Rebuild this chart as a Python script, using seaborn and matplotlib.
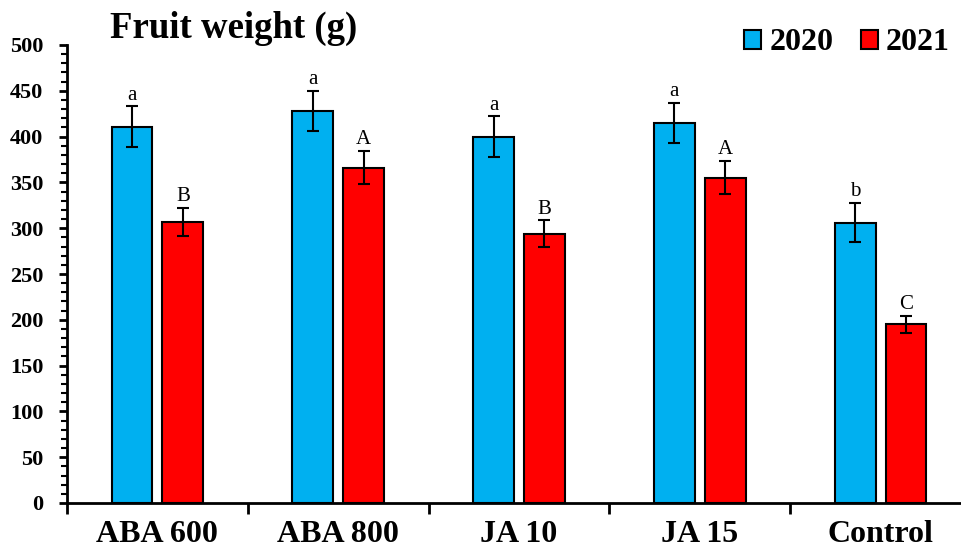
import pandas as pd
import matplotlib
matplotlib.use('Agg')
import matplotlib.pyplot as plt
import seaborn as sns
from matplotlib.ticker import MultipleLocator, FixedLocator

# values
treatments = ['ABA 600', 'ABA 800', 'JA 10', 'JA 15', 'Control']
years = ['2020', '2021']
weight_2020 = [411, 428, 400, 415, 306]
weight_2021 = [307, 366, 294, 355, 195]
err_2020 = [22, 22, 22, 21.5, 21.5]
err_2021 = [15, 18, 14.5, 18, 9.5]
letters_2020 = ['a', 'a', 'a', 'a', 'b']
letters_2021 = ['B', 'A', 'B', 'A', 'C']
colors = ['#00B0F0', '#FF0000']

df = pd.DataFrame({
    'treatment': treatments * 2,
    'year': [years[0]] * 5 + [years[1]] * 5,
    'weight': weight_2020 + weight_2021,
    'err': err_2020 + err_2021,
    'letter': letters_2020 + letters_2021,
})

sns.set_style('white')
plt.rcParams['font.family'] = ['Liberation Serif', 'DejaVu Serif']
plt.rcParams['text.color'] = 'black'
plt.rcParams['xtick.color'] = 'black'
plt.rcParams['ytick.color'] = 'black'

fig = plt.figure(figsize=(9.62, 5.52), dpi=100)
ax = fig.add_axes([67 / 962, 1 - 503 / 552, 904 / 962, 458 / 552])

sns.barplot(data=df, x='treatment', y='weight', hue='year', order=treatments,
            hue_order=years, palette=colors, saturation=1, width=0.564, gap=0.2,
            edgecolor='black', linewidth=1.5, errorbar=None, ax=ax, legend=False)

# error bars and letters, matched to the bar patches
bars = [p for p in ax.patches if p.get_height() > 0]
for i, yr in enumerate(years):
    sub = df[df['year'] == yr].set_index('treatment').loc[treatments]
    for j, t in enumerate(treatments):
        p = bars[i * len(treatments) + j]
        xc = p.get_x() + p.get_width() / 2
        ax.errorbar(xc, sub.loc[t, 'weight'], yerr=sub.loc[t, 'err'], fmt='none',
                    ecolor='black', elinewidth=1.5, capsize=4.5, capthick=1.5)
        ax.text(xc, sub.loc[t, 'weight'] + sub.loc[t, 'err'] + 2, sub.loc[t, 'letter'],
                ha='center', va='bottom', fontsize=15)

ax.set_xlim(-0.5, 4.5)
ax.set_ylim(0, 500)
ax.set_xlabel('')
ax.set_ylabel('')
for s in ['top', 'right']:
    ax.spines[s].set_visible(False)
for s in ['left', 'bottom']:
    ax.spines[s].set_linewidth(2)
    ax.spines[s].set_color('black')

ax.yaxis.set_major_locator(MultipleLocator(50))
ax.yaxis.set_minor_locator(MultipleLocator(10))
ax.tick_params(axis='y', which='major', direction='out', length=6, width=2,
               labelsize=16, pad=11, left=True)
ax.tick_params(axis='y', which='minor', direction='out', length=4, width=1.5, left=True)
for lab in ax.get_yticklabels():
    lab.set_fontweight('bold')

ax.xaxis.set_minor_locator(FixedLocator([-0.5, 0.5, 1.5, 2.5, 3.5, 4.5]))
ax.tick_params(axis='x', which='major', length=0, labelsize=23, pad=12)
ax.tick_params(axis='x', which='minor', direction='out', length=8, width=2, bottom=True)
for lab in ax.get_xticklabels():
    lab.set_fontweight('bold')

handles = [plt.Rectangle((0, 0), 1, 1, facecolor=c, edgecolor='black', linewidth=1.5)
           for c in colors]
fig.legend(handles, years, loc='center right', bbox_to_anchor=(950 / 962, 1 - 43 / 552),
           ncol=2, frameon=False, prop={'weight': 'bold', 'size': 23},
           handlelength=0.55, handleheight=0.55, handletextpad=0.25,
           columnspacing=0.85, borderpad=0, borderaxespad=0)

fig.text(110 / 962, 1 - 38 / 552, 'Fruit weight (g)', fontsize=26.5, fontweight='bold',
         ha='left', va='baseline')

fig.savefig('out.png', dpi=100)
